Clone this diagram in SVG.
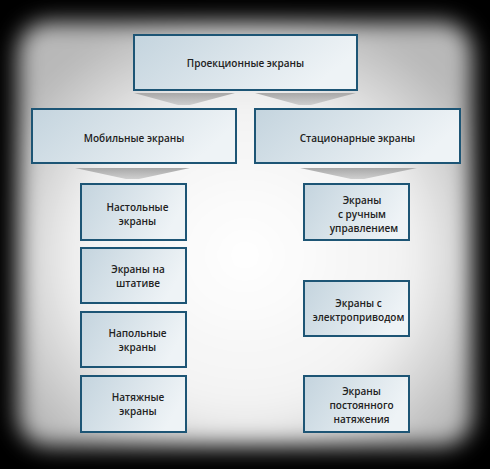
<svg xmlns="http://www.w3.org/2000/svg" width="490" height="469" viewBox="0 0 490 469">
<defs>
<filter id="blur" x="-10%" y="-10%" width="120%" height="120%"><feGaussianBlur stdDeviation="11"/></filter>
<radialGradient id="bg" cx="0.5" cy="0.55" r="0.6">
<stop offset="0" stop-color="#ffffff"/>
<stop offset="0.6" stop-color="#f2f2f2"/>
<stop offset="1" stop-color="#b8b8b8"/>
</radialGradient>
<linearGradient id="box" x1="0" y1="0" x2="1" y2="0.3">
<stop offset="0" stop-color="#c4d4de"/>
<stop offset="1" stop-color="#eef3f6"/>
</linearGradient>
<linearGradient id="chev" x1="0" y1="0" x2="0" y2="1">
<stop offset="0" stop-color="#a8a8a8"/>
<stop offset="1" stop-color="#cfcfcf"/>
</linearGradient>
<style>
.n rect{fill:url(#box);stroke:#1d5575;stroke-width:2}
.t{font-family:"Open Sans","DejaVu Sans",sans-serif;font-size:10px;font-weight:600;fill:#222;text-anchor:middle}
.c{fill:url(#chev)}
</style>
</defs>
<rect width="490" height="469" fill="#000"/>
<rect x="18" y="22" width="454" height="424" rx="30" fill="url(#bg)" filter="url(#blur)"/>
<g id="connectors">
<polygon class="c" points="134,93 235,93 190,105 178,105"/>
<polygon class="c" points="255,93 356,93 311,105 299,105"/>
<polygon class="c" points="75,168 190,168 139,179 126,179"/>
<polygon class="c" points="300,168 417,168 364,179 351,179"/>
</g>
<g id="n-top" class="n"><rect x="134" y="35" width="223" height="55"/><text class="t" x="245.5" y="66.5">Проекционные экраны</text></g>
<g id="n-mobile" class="n"><rect x="32" y="109" width="204" height="54"/><text class="t" x="134" y="141.5">Мобильные экраны</text></g>
<g id="n-stat" class="n"><rect x="255" y="109" width="205" height="54"/><text class="t" x="357.5" y="141.5">Стационарные экраны</text></g>
<g id="n-table" class="n"><rect x="81" y="184" width="105" height="56"/><text class="t" x="137.5" y="210.5">Настольные</text><text class="t" x="137.5" y="224.5">экраны</text></g>
<g id="n-tripod" class="n"><rect x="81" y="248" width="105" height="55"/><text class="t" x="138" y="272.5">Экраны на</text><text class="t" x="138" y="286.5">штативе</text></g>
<g id="n-floor" class="n"><rect x="81" y="312" width="105" height="55"/><text class="t" x="137.5" y="337">Напольные</text><text class="t" x="137.5" y="351">экраны</text></g>
<g id="n-tension" class="n"><rect x="81" y="376" width="105" height="56"/><text class="t" x="138" y="400.5">Натяжные</text><text class="t" x="138" y="414.5">экраны</text></g>
<g id="n-manual" class="n"><rect x="304" y="184" width="105" height="56"/><text class="t" x="362" y="204">Экраны</text><text class="t" x="362" y="218">с ручным</text><text class="t" x="364" y="232">управлением</text></g>
<g id="n-electric" class="n"><rect x="304" y="281" width="105" height="55"/><text class="t" x="358.5" y="306.5">Экраны с</text><text class="t" x="358.5" y="320.5">электроприводом</text></g>
<g id="n-const" class="n"><rect x="304" y="376" width="105" height="56"/><text class="t" x="361.5" y="394.5">Экраны</text><text class="t" x="361.5" y="408.5">постоянного</text><text class="t" x="361.5" y="422.5">натяжения</text></g>
</svg>
